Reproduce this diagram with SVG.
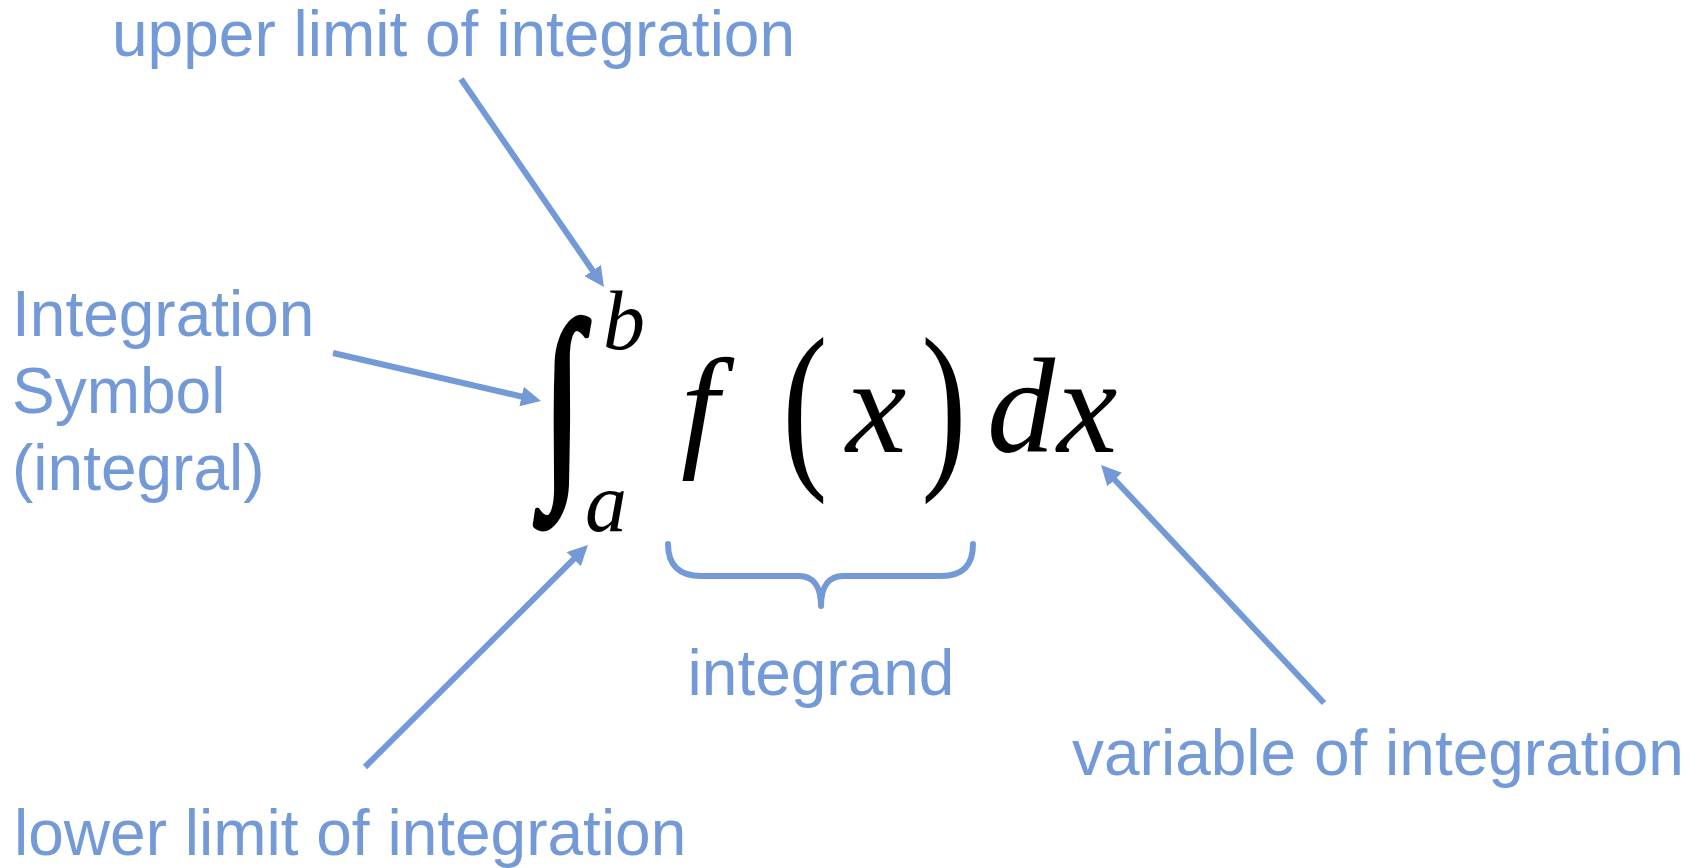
<svg xmlns="http://www.w3.org/2000/svg" width="1700" height="868" viewBox="0 0 1700 868">
<style>
.lbl{font-family:"Liberation Sans",Arial,sans-serif;font-size:64px;fill:#7399D7}
.m{font-family:"Liberation Serif","Times New Roman",serif;fill:#000}
.mi{font-style:italic}
.arr{stroke:#7399D7;stroke-width:6;fill:none;marker-end:url(#ah)}
.brace{stroke:#7399D7;stroke-width:6;fill:none;stroke-linecap:round;stroke-linejoin:round}
</style>
<defs>
<marker id="ah" markerUnits="userSpaceOnUse" viewBox="0 0 20 20" refX="2" refY="10" markerWidth="20" markerHeight="20" orient="auto">
<path d="M0,0 L20,10 L0,20 z" fill="#7399D7"/>
</marker>
</defs>
<rect width="1700" height="868" fill="#fff"/>
<g id="equation">
<text class="m" transform="translate(142.25,-68.7) scale(0.75,1.103)" x="560" y="489" font-size="195" text-anchor="middle" stroke="#000" stroke-width="5" stroke-linejoin="round">∫</text>
<text class="m mi" x="603" y="349" font-size="84">b</text>
<text class="m mi" x="585" y="531" font-size="84">a</text>
<text class="m mi" x="681" y="452" font-size="136">f</text>
<text class="m" transform="translate(805,421) scale(1,1.36)" x="0" y="32.6" font-size="136" text-anchor="middle">(</text>
<text class="m mi" x="846" y="452" font-size="136">x</text>
<text class="m" transform="translate(944,421) scale(1,1.36)" x="0" y="32.6" font-size="136" text-anchor="middle">)</text>
<text class="m mi" x="987" y="452" font-size="136">d</text>
<text class="m mi" x="1057" y="452" font-size="136">x</text>
</g>
<g id="upper-limit"><text class="lbl" x="112" y="56">upper limit of integration</text></g>
<g id="integration-symbol"><text class="lbl" x="12" y="336">Integration</text><text class="lbl" x="12" y="413">Symbol</text><text class="lbl" x="12" y="490">(integral)</text></g>
<g id="integrand"><path class="brace" d="M668,544 C668,565 679,576 701,576 L799,576 C812,576 821,585 821,606 C821,585 830,576 843,576 L941,576 C963,576 973,565 973,544"/><text class="lbl" x="821" y="695" text-anchor="middle">integrand</text></g>
<g id="variable"><text class="lbl" x="1072" y="775">variable of integration</text></g>
<g id="lower-limit"><text class="lbl" x="14" y="855">lower limit of integration</text></g>
<g id="connectors">
<line class="arr" x1="461" y1="79" x2="593.8" y2="272.2"/>
<line class="arr" x1="333" y1="353" x2="523.5" y2="397"/>
<line class="arr" x1="365" y1="767" x2="575.2" y2="557.7"/>
<line class="arr" x1="1324" y1="703" x2="1113.3" y2="478.2"/>
</g>
</svg>
